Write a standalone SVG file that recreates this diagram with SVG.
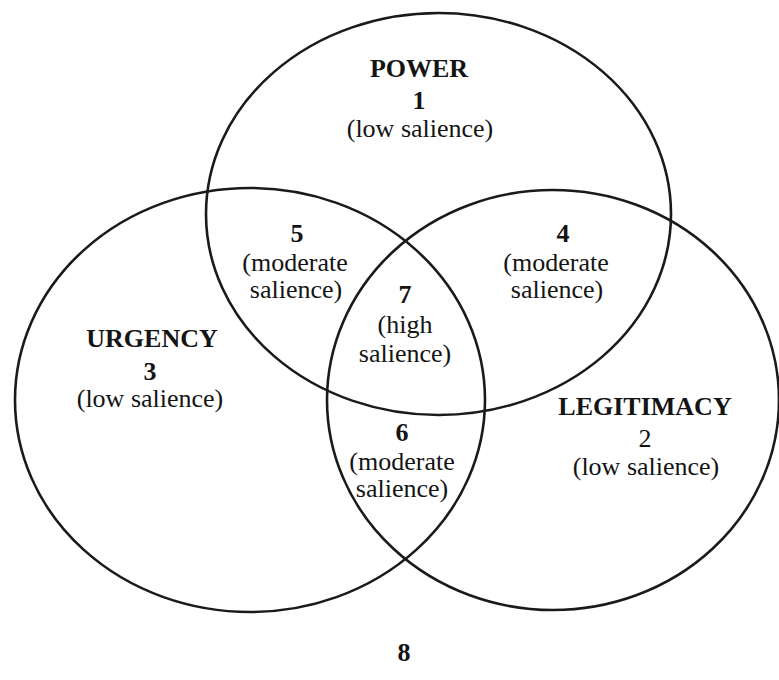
<svg xmlns="http://www.w3.org/2000/svg" width="779" height="680" viewBox="0 0 779 680">
  <style>
    .ring { fill: none; stroke: #1a1a1a; stroke-width: 2.6; }
    text { font-family: "Liberation Serif", "Times New Roman", serif; fill: #141414; text-anchor: middle; font-size: 26px; }
    .hd { font-weight: bold; }
  </style>
  <rect width="779" height="680" fill="#ffffff"/>

  <!-- the three attribute sets -->
  <g id="power-set">
    <ellipse class="ring" cx="438.5" cy="214" rx="232.5" ry="201"/>
    <text class="hd" x="419" y="77">POWER</text>
    <text class="hd" x="419" y="109">1</text>
    <text x="420" y="137">(low salience)</text>
  </g>
  <g id="urgency-set">
    <ellipse class="ring" cx="250" cy="400" rx="235" ry="212"/>
    <text class="hd" x="152" y="347">URGENCY</text>
    <text class="hd" x="150" y="380">3</text>
    <text x="150" y="407">(low salience)</text>
  </g>
  <g id="legitimacy-set">
    <ellipse class="ring" cx="553" cy="400" rx="226" ry="210"/>
    <text class="hd" x="645" y="415">LEGITIMACY</text>
    <text x="645" y="447">2</text>
    <text x="646" y="475">(low salience)</text>
  </g>

  <!-- overlap regions -->
  <g id="region-5">
    <text class="hd" x="297" y="242">5</text>
    <text x="295" y="271">(moderate</text>
    <text x="296" y="298">salience)</text>
  </g>
  <g id="region-4">
    <text class="hd" x="563" y="242">4</text>
    <text x="556" y="271">(moderate</text>
    <text x="557" y="298">salience)</text>
  </g>
  <g id="region-7">
    <text class="hd" x="405" y="303">7</text>
    <text x="405" y="333">(high</text>
    <text x="405" y="362">salience)</text>
  </g>
  <g id="region-6">
    <text class="hd" x="402" y="441">6</text>
    <text x="402" y="470">(moderate</text>
    <text x="402" y="497">salience)</text>
  </g>
  <g id="outside-8">
    <text class="hd" x="404" y="661">8</text>
  </g>

  <g id="connectors"/>
</svg>
